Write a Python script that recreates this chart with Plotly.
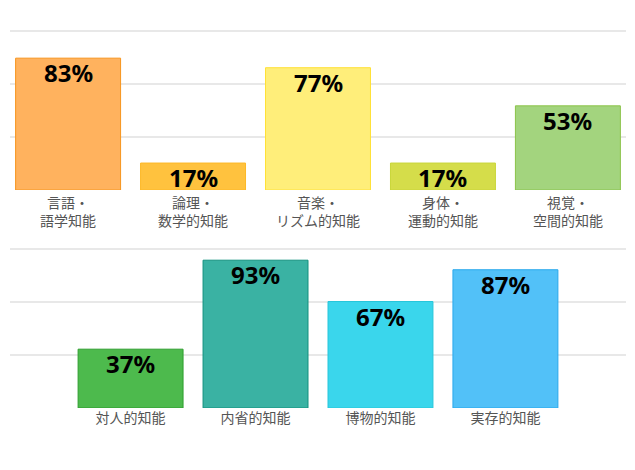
import plotly.graph_objects as go
from plotly.subplots import make_subplots

# 上段
top_labels = ['言語・<br>語学知能', '論理・<br>数学的知能', '音楽・<br>リズム的知能', '身体・<br>運動的知能', '視覚・<br>空間的知能']
top_values = [83, 17, 77, 17, 53]
top_colors = ['#FFB25E', '#FFC23E', '#FFEE7A', '#D5DD4A', '#A3D47E']
top_lines = ['#F7941D', '#FDB827', '#FFE135', '#C9D63A', '#8BC34A']

# 下段
bottom_labels = ['対人的知能', '内省的知能', '博物的知能', '実存的知能']
bottom_values = [37, 93, 67, 87]
bottom_colors = ['#4DBA4D', '#3AB2A3', '#3AD6EC', '#52C1F8']
bottom_lines = ['#2E9E2E', '#13917F', '#26C6DA', '#29A8EC']

fig = make_subplots(rows=2, cols=1, vertical_spacing=0.12)

pct_font = dict(family='Noto Sans', size=24, color='black', weight='bold')

rows = [
    (top_labels, top_values, top_colors, top_lines, 'x', 'y'),
    (bottom_labels, bottom_values, bottom_colors, bottom_lines, 'x2', 'y2'),
]
for r, (labels, values, colors, lines, xr, yr) in enumerate(rows, start=1):
    fig.add_trace(go.Bar(x=labels, y=values, marker_color=colors,
                         marker_line=dict(color=lines, width=1), width=0.84,
                         hovertemplate='%{y}%<extra></extra>'),
                  row=r, col=1)
    # パーセント表示（棒の上端の内側）
    for lab, v in zip(labels, values):
        fig.add_annotation(x=lab, y=v, xref=xr, yref=yr, text=f'{v}%',
                           yanchor='top', showarrow=False, yshift=3,
                           borderpad=0, font=pct_font)

grid = [0, 100 / 3, 200 / 3, 100]
fig.update_yaxes(range=[0, 102], tickvals=grid, showticklabels=False,
                 gridcolor='#E8E8E8', gridwidth=1.5, zeroline=False, fixedrange=True)
fig.update_xaxes(tickfont=dict(family='Noto Sans CJK JP', size=14, color='#555555'),
                 showline=False, ticks='')
fig.update_xaxes(range=[-0.465, 4.465], ticklabelstandoff=3, row=1, col=1)
fig.update_xaxes(range=[-0.965, 3.965], row=2, col=1)
fig.update_yaxes(domain=[0.599, 0.956], row=1, col=1)
fig.update_yaxes(domain=[0.119, 0.476], row=2, col=1)

fig.update_layout(width=619, height=454, showlegend=False,
                  margin=dict(l=2, r=1, t=0, b=0),
                  plot_bgcolor='white', paper_bgcolor='white')

fig.write_html("out.html")
